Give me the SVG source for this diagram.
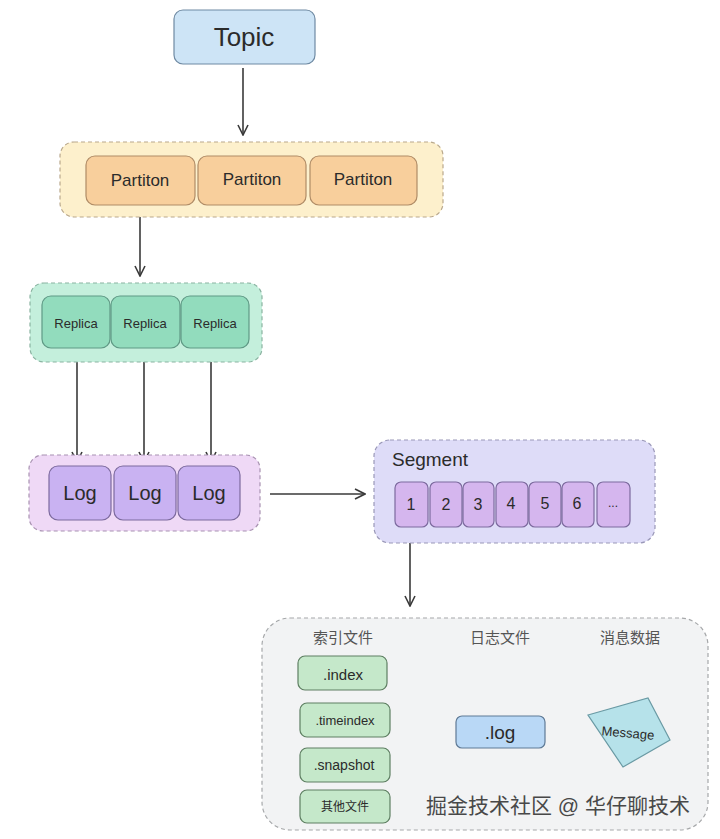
<svg xmlns="http://www.w3.org/2000/svg" width="720" height="839" viewBox="0 0 720 839">
<defs>
<marker id="ah2" viewBox="0 0 12 12" refX="11" refY="6" markerWidth="12" markerHeight="12" orient="auto" markerUnits="userSpaceOnUse">
<path d="M1,1 L11,6 L1,11" fill="none" stroke="#3a3a3a" stroke-width="1.6"/>
</marker>
</defs>
<style>
text{font-family:"Liberation Sans","DejaVu Sans","Noto Sans CJK SC",sans-serif;fill:#2b2b2b;text-anchor:middle;dominant-baseline:central}
.cont{stroke-dasharray:4 3;stroke-width:1.2}
.box{stroke-width:1.2}
.conn{stroke:#3a3a3a;stroke-width:1.6;fill:none;marker-end:url(#ah2)}
.cn{fill:#555;font-size:15px}
</style>
<rect width="720" height="839" fill="#ffffff"/>

<g id="connectors">
<line class="conn" x1="243" y1="68" x2="243" y2="135"/>
<line class="conn" x1="140" y1="207" x2="140" y2="276"/>
<line class="conn" x1="77" y1="350" x2="77" y2="462"/>
<line class="conn" x1="144" y1="350" x2="144" y2="462"/>
<line class="conn" x1="211" y1="350" x2="211" y2="462"/>
<line class="conn" x1="270" y1="494" x2="365" y2="494"/>
<line class="conn" x1="410" y1="528" x2="410" y2="606"/>
</g>

<g id="topic">
<rect class="box" x="174" y="10" width="141" height="54" rx="9" fill="#cde4f6" stroke="#6f8aa3"/>
<text x="244" y="37" font-size="26">Topic</text>
</g>

<g id="partitions">
<rect class="cont" x="60" y="142" width="383" height="75" rx="14" fill="#fdf0cc" stroke="#b9a88c"/>
<g id="partition1"><rect class="box" x="86" y="156" width="109" height="49" rx="9" fill="#f8cf9c" stroke="#b08c66"/><text x="140" y="180" font-size="17">Partiton</text></g>
<g id="partition2"><rect class="box" x="198" y="156" width="108" height="49" rx="9" fill="#f8cf9c" stroke="#b08c66"/><text x="252" y="179" font-size="17">Partiton</text></g>
<g id="partition3"><rect class="box" x="310" y="156" width="107" height="49" rx="9" fill="#f8cf9c" stroke="#b08c66"/><text x="363" y="179" font-size="17">Partiton</text></g>
</g>

<g id="replicas">
<rect class="cont" x="30" y="283" width="232" height="79" rx="14" fill="#c4efdc" stroke="#8ab3a1"/>
<g id="replica1"><rect class="box" x="42" y="296" width="68" height="52" rx="9" fill="#92dcbd" stroke="#5f9985"/><text x="76" y="323" font-size="13">Replica</text></g>
<g id="replica2"><rect class="box" x="111" y="296" width="69" height="52" rx="9" fill="#92dcbd" stroke="#5f9985"/><text x="145" y="323" font-size="13">Replica</text></g>
<g id="replica3"><rect class="box" x="181" y="296" width="68" height="52" rx="9" fill="#92dcbd" stroke="#5f9985"/><text x="215" y="323" font-size="13">Replica</text></g>
</g>

<g id="logs">
<rect class="cont" x="29" y="455" width="231" height="76" rx="14" fill="#efd9f6" stroke="#a892b1"/>
<g id="log1"><rect class="box" x="49" y="466" width="62" height="54" rx="9" fill="#c9b2f2" stroke="#7c6a9e"/><text x="80" y="493" font-size="20">Log</text></g>
<g id="log2"><rect class="box" x="114" y="466" width="62" height="54" rx="9" fill="#c9b2f2" stroke="#7c6a9e"/><text x="145" y="493" font-size="20">Log</text></g>
<g id="log3"><rect class="box" x="178" y="466" width="62" height="54" rx="9" fill="#c9b2f2" stroke="#7c6a9e"/><text x="209" y="493" font-size="20">Log</text></g>
</g>

<g id="segment">
<rect class="cont" x="374" y="440" width="281" height="103" rx="16" fill="#dedcf8" stroke="#9a98b8"/>
<text x="430" y="459" font-size="19">Segment</text>
<g id="seg1"><rect class="box" x="395" y="482" width="33" height="45" rx="6" fill="#d5b6ee" stroke="#7c6a9e"/><text x="411" y="504" font-size="16">1</text></g>
<g id="seg2"><rect class="box" x="430" y="482" width="32" height="45" rx="6" fill="#d5b6ee" stroke="#7c6a9e"/><text x="446" y="504" font-size="16">2</text></g>
<g id="seg3"><rect class="box" x="463" y="482" width="31" height="45" rx="6" fill="#d5b6ee" stroke="#7c6a9e"/><text x="478" y="504" font-size="16">3</text></g>
<g id="seg4"><rect class="box" x="496" y="482" width="32" height="45" rx="6" fill="#d5b6ee" stroke="#7c6a9e"/><text x="511" y="503" font-size="16">4</text></g>
<g id="seg5"><rect class="box" x="529" y="482" width="32" height="45" rx="6" fill="#d5b6ee" stroke="#7c6a9e"/><text x="545" y="503" font-size="16">5</text></g>
<g id="seg6"><rect class="box" x="562" y="482" width="32" height="45" rx="6" fill="#d5b6ee" stroke="#7c6a9e"/><text x="577" y="503" font-size="16">6</text></g>
<g id="segmore"><rect class="box" x="597" y="482" width="33" height="45" rx="6" fill="#d5b6ee" stroke="#7c6a9e"/><text x="613" y="503" font-size="12">...</text></g>
</g>

<g id="files">
<rect class="cont" x="262" y="618" width="446" height="212" rx="28" fill="#f2f3f4" stroke="#a6a8aa"/>
<text class="cn" x="343" y="637">索引文件</text>
<text class="cn" x="500" y="637">日志文件</text>
<text class="cn" x="630" y="637">消息数据</text>
<g id="index"><rect class="box" x="298" y="656" width="89" height="34" rx="7" fill="#c5e8ca" stroke="#5e7f62"/><text x="343" y="674" font-size="15">.index</text></g>
<g id="timeindex"><rect class="box" x="300" y="703" width="90" height="34" rx="7" fill="#c5e8ca" stroke="#5e7f62"/><text x="345" y="720" font-size="13">.timeindex</text></g>
<g id="snapshot"><rect class="box" x="300" y="748" width="90" height="34" rx="7" fill="#c5e8ca" stroke="#5e7f62"/><text x="344" y="765" font-size="14">.snapshot</text></g>
<g id="other"><rect class="box" x="300" y="790" width="90" height="33" rx="7" fill="#c5e8ca" stroke="#5e7f62"/><text x="345" y="807" font-size="12" fill="#555">其他文件</text></g>
<g id="log"><rect class="box" x="456" y="716" width="89" height="32" rx="6" fill="#b9d8f6" stroke="#5f7a96"/><text x="500" y="732" font-size="19">.log</text></g>
<g id="message"><polygon points="588,715 648,698 670,740 623,767" fill="#b6e2ea" stroke="#6a9aa4" stroke-width="1.2"/><text x="628" y="733" font-size="13" transform="rotate(5 628 733)">Message</text></g>
<text x="558" y="805" font-size="21" fill="#6e6e6e" opacity="0.85">掘金技术社区 @ 华仔聊技术</text>
</g>
</svg>
